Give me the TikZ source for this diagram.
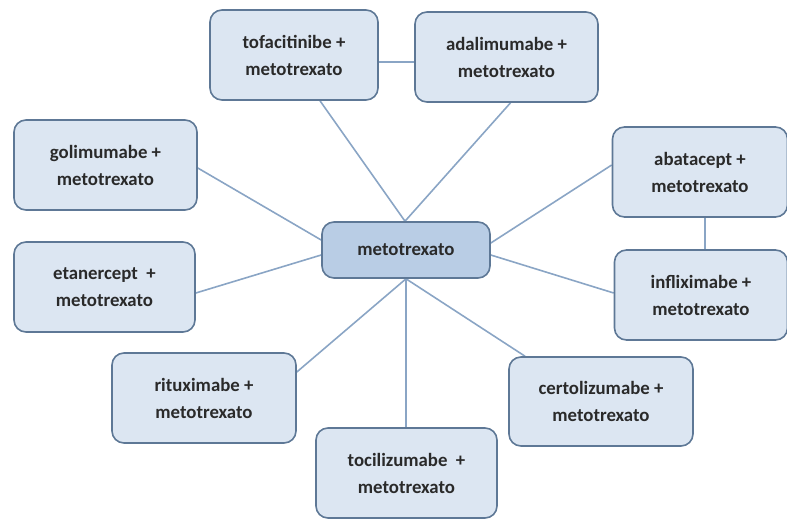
\documentclass[tikz,border=0pt]{standalone}
\usepackage{fontspec}
\setmainfont{Carlito}
\usetikzlibrary{calc,backgrounds}
\definecolor{boxfill}{HTML}{DCE6F2}
\definecolor{boxdraw}{HTML}{5E7896}
\definecolor{midfill}{HTML}{B9CDE5}
\definecolor{linkc}{HTML}{8AA5C5}
\definecolor{txt}{HTML}{2A2A2A}
\tikzset{
  drug/.style={draw=boxdraw, line width=1.6pt, fill=boxfill, rounded corners=12pt,
    minimum width=#1, minimum height=90pt, align=center, inner sep=0pt,
    font=\bfseries\fontsize{18.8}{27}\selectfont, text=txt},
  drug/.default=183pt,
  link/.style={draw=linkc, line width=1.6pt}
}
\begin{document}
\begin{tikzpicture}[x=1pt,y=-1pt]
\useasboundingbox (0,0) rectangle (787,520);
\node[drug, fill=midfill, minimum width=168pt, minimum height=56pt] (m) at (406,250) {metotrexato};
\node[drug=168pt] (tofa) at (294,55) {tofacitinibe +\\metotrexato};
\node[drug] (adal) at (506.5,57) {adalimumabe +\\metotrexato};
\node[drug] (goli) at (105.5,165) {golimumabe +\\metotrexato};
\node[drug=181pt] (etan) at (104.5,287) {etanercept~ +\\metotrexato};
\node[drug=175pt] (abat) at (700,172) {abatacept +\\metotrexato};
\node[drug=173pt] (infl) at (701,295) {infliximabe +\\metotrexato};
\node[drug=184pt] (ritu) at (204,398) {rituximabe +\\metotrexato};
\node[drug=184pt, minimum height=89pt] (cert) at (601,401.5) {certolizumabe +\\metotrexato};
\node[drug=181pt] (toci) at (406.5,473) {tocilizumabe~ +\\metotrexato};
\begin{scope}[on background layer]
\coordinate (mt) at ($(m.north)+(-1,0)$);
\coordinate (mb) at (m.south);
\coordinate (ml1) at ($(m.west)+(0,-10)$);
\coordinate (ml2) at ($(m.west)+(0,5)$);
\coordinate (mr1) at ($(m.east)+(0,-7)$);
\coordinate (mr2) at ($(m.east)+(0,5)$);
\draw[link] (mt) -- ($(tofa.south)+(26,0)$);
\draw[link] (mt) -- ($(adal.south)+(4,0)$);
\draw[link] (tofa.east |- 0,62) -- (adal.west |- 0,62);
\draw[link] (ml1) -- ($(goli.east)+(0,3)$);
\draw[link] (ml2) -- ($(etan.east)+(0,6)$);
\draw[link] (mr1) -- ($(abat.west)+(0,-7)$);
\draw[link] (mr2) -- ($(infl.west)+(0,-2)$);
\draw[link] ($(abat.south)+(5,0)$) -- ($(infl.north)+(4,0)$);
\draw[link] (mb) -- ($(ritu.east)+(0,-26)$);
\draw[link] (mb) -- ($(cert.north)+(-76,0)$);
\draw[link] (mb) -- (toci.north -| mb);
\end{scope}
\end{tikzpicture}
\end{document}
